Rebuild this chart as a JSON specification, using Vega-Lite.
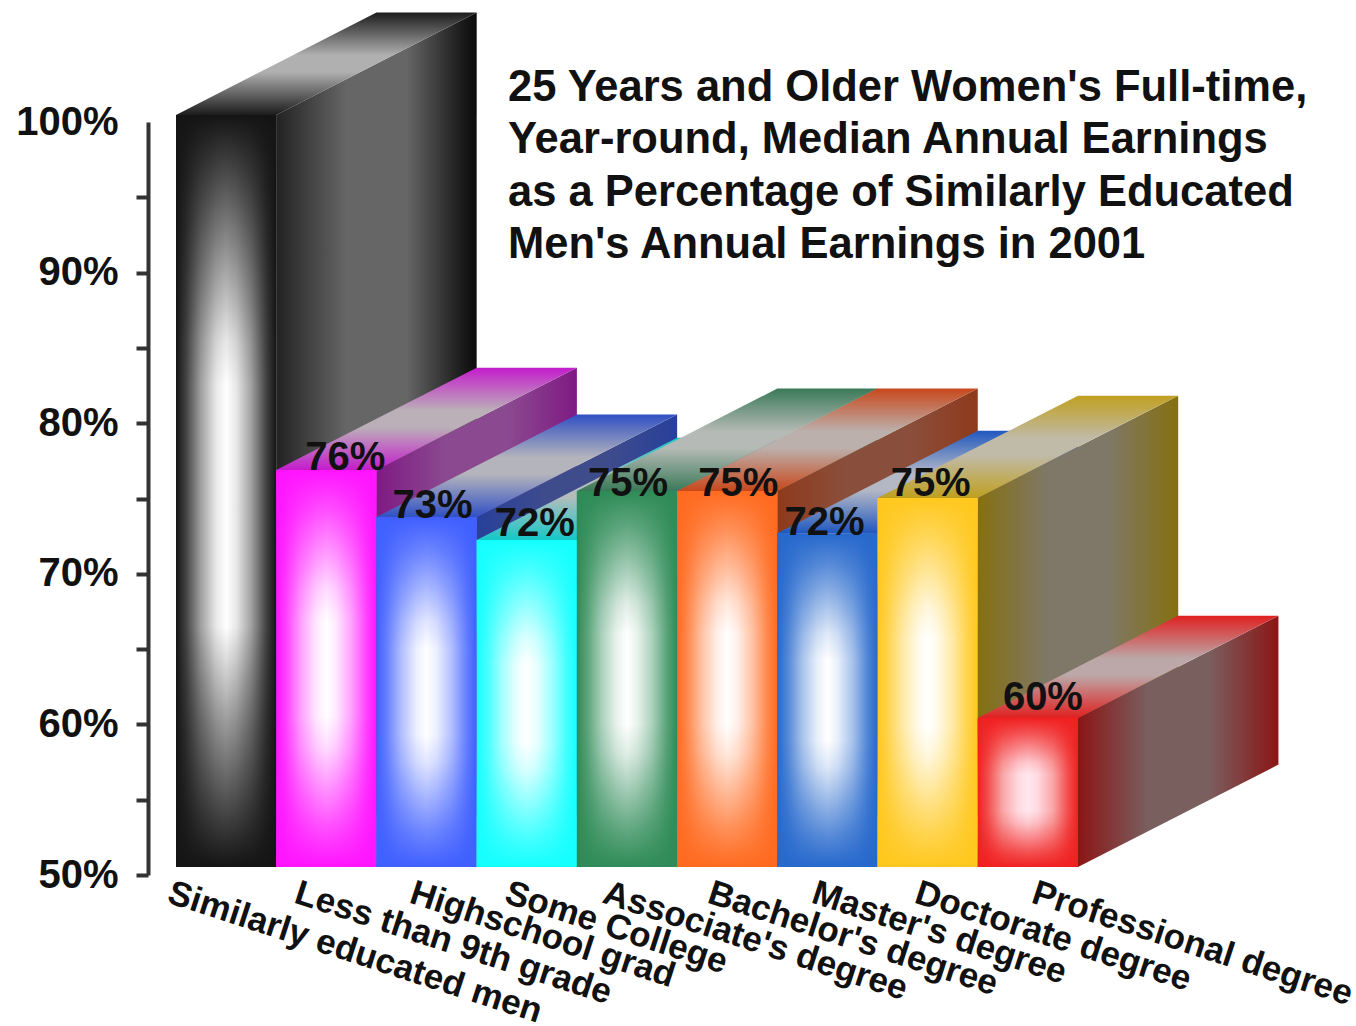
{"$schema":"https://vega.github.io/schema/vega-lite/v6.json","autosize":"none","width":1208,"height":753,"padding":{"left":148,"top":122,"right":0,"bottom":151},"background":"white",
"title":{"text":["25 Years and Older Women's Full-time,","Year-round, Median Annual Earnings","as a Percentage of Similarly Educated","Men's Annual Earnings in 2001"],"anchor":"start","frame":"group","baseline":"top","orient":"top","offset":0,"dx":360,"dy":255,"font":"Liberation Sans","fontSize":43.5,"fontWeight":"bold","color":"#111111","lineHeight":52.5},
"config":{"view":{"stroke":null}},
"data":{"values":[
{"bar":"Similarly educated men","face":"side","x":1,"y":100.47,"y2":50.53},{"bar":"Similarly educated men","face":"side","x":3,"y":107.27,"y2":57.33},
{"bar":"Similarly educated men","face":"top","x":0,"y":100.47,"y2":100.47},{"bar":"Similarly educated men","face":"top","x":1,"y":103.87,"y2":100.47},{"bar":"Similarly educated men","face":"top","x":2,"y":107.27,"y2":103.87},{"bar":"Similarly educated men","face":"top","x":3,"y":107.27,"y2":107.27},
{"bar":"Similarly educated men","face":"front","x":0,"x2":1,"y":100.47,"y2":50.53},
{"bar":"Less than 9th grade","face":"side","x":2,"y":76.89,"y2":50.53},{"bar":"Less than 9th grade","face":"side","x":4,"y":83.69,"y2":57.33},
{"bar":"Less than 9th grade","face":"top","x":1,"y":76.89,"y2":76.89},{"bar":"Less than 9th grade","face":"top","x":2,"y":80.29,"y2":76.89},{"bar":"Less than 9th grade","face":"top","x":3,"y":83.69,"y2":80.29},{"bar":"Less than 9th grade","face":"top","x":4,"y":83.69,"y2":83.69},
{"bar":"Less than 9th grade","face":"front","x":1,"x2":2,"y":76.89,"y2":50.53},
{"bar":"Highschool grad","face":"side","x":3,"y":73.77,"y2":50.53},{"bar":"Highschool grad","face":"side","x":5,"y":80.57,"y2":57.33},
{"bar":"Highschool grad","face":"top","x":2,"y":73.77,"y2":73.77},{"bar":"Highschool grad","face":"top","x":3,"y":77.17,"y2":73.77},{"bar":"Highschool grad","face":"top","x":4,"y":80.57,"y2":77.17},{"bar":"Highschool grad","face":"top","x":5,"y":80.57,"y2":80.57},
{"bar":"Highschool grad","face":"front","x":2,"x2":3,"y":73.77,"y2":50.53},
{"bar":"Some College","face":"side","x":4,"y":72.24,"y2":50.53},{"bar":"Some College","face":"side","x":6,"y":79.04,"y2":57.33},
{"bar":"Some College","face":"top","x":3,"y":72.24,"y2":72.24},{"bar":"Some College","face":"top","x":4,"y":75.64,"y2":72.24},{"bar":"Some College","face":"top","x":5,"y":79.04,"y2":75.64},{"bar":"Some College","face":"top","x":6,"y":79.04,"y2":79.04},
{"bar":"Some College","face":"front","x":3,"x2":4,"y":72.24,"y2":50.53},
{"bar":"Associate's degree","face":"side","x":5,"y":75.5,"y2":50.53},{"bar":"Associate's degree","face":"side","x":7,"y":82.3,"y2":57.33},
{"bar":"Associate's degree","face":"top","x":4,"y":75.5,"y2":75.5},{"bar":"Associate's degree","face":"top","x":5,"y":78.9,"y2":75.5},{"bar":"Associate's degree","face":"top","x":6,"y":82.3,"y2":78.9},{"bar":"Associate's degree","face":"top","x":7,"y":82.3,"y2":82.3},
{"bar":"Associate's degree","face":"front","x":4,"x2":5,"y":75.5,"y2":50.53},
{"bar":"Bachelor's degree","face":"side","x":6,"y":75.5,"y2":50.53},{"bar":"Bachelor's degree","face":"side","x":8,"y":82.3,"y2":57.33},
{"bar":"Bachelor's degree","face":"top","x":5,"y":75.5,"y2":75.5},{"bar":"Bachelor's degree","face":"top","x":6,"y":78.9,"y2":75.5},{"bar":"Bachelor's degree","face":"top","x":7,"y":82.3,"y2":78.9},{"bar":"Bachelor's degree","face":"top","x":8,"y":82.3,"y2":82.3},
{"bar":"Bachelor's degree","face":"front","x":5,"x2":6,"y":75.5,"y2":50.53},
{"bar":"Master's degree","face":"side","x":7,"y":72.7,"y2":50.53},{"bar":"Master's degree","face":"side","x":9,"y":79.5,"y2":57.33},
{"bar":"Master's degree","face":"top","x":6,"y":72.7,"y2":72.7},{"bar":"Master's degree","face":"top","x":7,"y":76.1,"y2":72.7},{"bar":"Master's degree","face":"top","x":8,"y":79.5,"y2":76.1},{"bar":"Master's degree","face":"top","x":9,"y":79.5,"y2":79.5},
{"bar":"Master's degree","face":"front","x":6,"x2":7,"y":72.7,"y2":50.53},
{"bar":"Doctorate degree","face":"side","x":8,"y":75.03,"y2":50.53},{"bar":"Doctorate degree","face":"side","x":10,"y":81.83,"y2":57.33},
{"bar":"Doctorate degree","face":"top","x":7,"y":75.03,"y2":75.03},{"bar":"Doctorate degree","face":"top","x":8,"y":78.43,"y2":75.03},{"bar":"Doctorate degree","face":"top","x":9,"y":81.83,"y2":78.43},{"bar":"Doctorate degree","face":"top","x":10,"y":81.83,"y2":81.83},
{"bar":"Doctorate degree","face":"front","x":7,"x2":8,"y":75.03,"y2":50.53},
{"bar":"Professional degree","face":"side","x":9,"y":60.42,"y2":50.53},{"bar":"Professional degree","face":"side","x":11,"y":67.22,"y2":57.33},
{"bar":"Professional degree","face":"top","x":8,"y":60.42,"y2":60.42},{"bar":"Professional degree","face":"top","x":9,"y":63.82,"y2":60.42},{"bar":"Professional degree","face":"top","x":10,"y":67.22,"y2":63.82},{"bar":"Professional degree","face":"top","x":11,"y":67.22,"y2":67.22},
{"bar":"Professional degree","face":"front","x":8,"x2":9,"y":60.42,"y2":50.53},
{"bar":"Less than 9th grade","face":"label","x":1.69,"y":77.69,"label":"76%"},
{"bar":"Highschool grad","face":"label","x":2.56,"y":74.5,"label":"73%"},
{"bar":"Some College","face":"label","x":3.58,"y":73.31,"label":"72%"},
{"bar":"Associate's degree","face":"label","x":4.51,"y":75.96,"label":"75%"},
{"bar":"Bachelor's degree","face":"label","x":5.61,"y":75.96,"label":"75%"},
{"bar":"Master's degree","face":"label","x":6.47,"y":73.37,"label":"72%"},
{"bar":"Doctorate degree","face":"label","x":7.53,"y":75.96,"label":"75%"},
{"bar":"Professional degree","face":"label","x":8.65,"y":61.75,"label":"60%"}
]},
"encoding":{
"x":{"field":"x","type":"quantitative","title":null,"scale":{"domain":[-0.2794,11.774],"nice":false,"zero":false},"axis":{"values":[-0.02,1.247,2.395,3.343,4.321,5.369,6.407,7.435,8.602],"labelExpr":"['Similarly educated men','Less than 9th grade','Highschool grad','Some College',\"Associate's degree\",\"Bachelor's degree\",\"Master's degree\",'Doctorate degree','Professional degree'][indexof([-0.02,1.247,2.395,3.343,4.321,5.369,6.407,7.435,8.602],datum.value)]","domain":false,"ticks":false,"grid":false,"labelAngle":18,"labelAlign":"left","labelBaseline":"top","labelPadding":0,"labelOverlap":false,"labelBound":false,"labelFlush":false,"labelLimit":800,"labelFont":"Liberation Sans","labelFontSize":35,"labelFontWeight":"bold","labelColor":"#111111"}},
"y":{"field":"y","type":"quantitative","title":null,"scale":{"domain":[50,100],"nice":false,"zero":false},"axis":{"values":[50,55,60,65,70,75,80,85,90,95,100],"labelExpr":"datum.value%10==0?datum.value+'%':''","grid":false,"domainColor":"#333333","domainWidth":4,"tickColor":"#333333","tickWidth":4,"tickSize":12,"tickOpacity":{"condition":{"test":"datum.value==100","value":0},"value":1},"labelPadding":18,"labelFont":"Liberation Sans","labelFontSize":40,"labelFontWeight":"bold","labelColor":"#111111","labelOverlap":false,"labelBound":false,"labelFlush":false}},
"y2":{"field":"y2"}
},
"layer":[
{"transform":[{"filter":{"field":"bar","equal":"Similarly educated men"}}],"layer":[
{"transform":[{"filter":{"field":"face","equal":"side"}}],"mark":{"type":"area","fill":{"gradient":"linear","x1":0,"y1":0,"x2":1,"y2":0,"stops":[{"offset":0,"color":"#222222"},{"offset":0.35,"color":"#666666"},{"offset":0.65,"color":"#666666"},{"offset":0.93,"color":"#1a1a1a"},{"offset":1,"color":"#0c0c0c"}]}}},
{"transform":[{"filter":{"field":"face","equal":"top"}}],"mark":{"type":"area","fill":{"gradient":"linear","x1":0,"y1":0,"x2":0,"y2":1,"stops":[{"offset":0,"color":"#1c1c1c"},{"offset":0.42,"color":"#b0b0b0"},{"offset":0.58,"color":"#b0b0b0"},{"offset":1,"color":"#1c1c1c"}]}}},
{"transform":[{"filter":{"field":"face","equal":"front"}}],"mark":{"type":"rect","fill":{"gradient":"linear","x1":0,"y1":0,"x2":1,"y2":0,"stops":[{"offset":0,"color":"#141414"},{"offset":0.1,"color":"#434343"},{"offset":0.25,"color":"#a1a1a1"},{"offset":0.4,"color":"#e8e8e8"},{"offset":0.5,"color":"#ffffff"},{"offset":0.6,"color":"#e8e8e8"},{"offset":0.75,"color":"#a1a1a1"},{"offset":0.9,"color":"#434343"},{"offset":1,"color":"#141414"}]}},"encoding":{"x2":{"field":"x2"}}},
{"transform":[{"filter":{"field":"face","equal":"front"}}],"mark":{"type":"rect","fill":{"gradient":"linear","x1":0,"y1":0,"x2":0,"y2":1,"stops":[{"offset":0,"color":"rgba(20,20,20,1)"},{"offset":0.1,"color":"rgba(20,20,20,0.7)"},{"offset":0.2,"color":"rgba(20,20,20,0.4)"},{"offset":0.3,"color":"rgba(20,20,20,0.1)"},{"offset":0.36,"color":"rgba(20,20,20,0)"},{"offset":0.68,"color":"rgba(20,20,20,0)"},{"offset":0.8,"color":"rgba(20,20,20,0.4)"},{"offset":0.9,"color":"rgba(20,20,20,0.7)"},{"offset":1,"color":"rgba(20,20,20,1)"}]}},"encoding":{"x2":{"field":"x2"}}}
]},
{"transform":[{"filter":{"field":"bar","equal":"Less than 9th grade"}}],"layer":[
{"transform":[{"filter":{"field":"face","equal":"side"}}],"mark":{"type":"area","fill":{"gradient":"linear","x1":0,"y1":0,"x2":1,"y2":0,"stops":[{"offset":0,"color":"#7f1a84"},{"offset":0.35,"color":"#8b4a8f"},{"offset":0.65,"color":"#8b4a8f"},{"offset":1,"color":"#7f1a84"}]}}},
{"transform":[{"filter":{"field":"face","equal":"top"}}],"mark":{"type":"area","fill":{"gradient":"linear","x1":0,"y1":0,"x2":0,"y2":1,"stops":[{"offset":0,"color":"#c41ccc"},{"offset":0.42,"color":"#bbb0b8"},{"offset":0.58,"color":"#bbb0b8"},{"offset":1,"color":"#c41ccc"}]}}},
{"transform":[{"filter":{"field":"face","equal":"front"}}],"mark":{"type":"rect","fill":{"gradient":"linear","x1":0,"y1":0,"x2":1,"y2":0,"stops":[{"offset":0,"color":"#ff14ff"},{"offset":0.1,"color":"#ff43ff"},{"offset":0.25,"color":"#ffa1ff"},{"offset":0.4,"color":"#ffe8ff"},{"offset":0.5,"color":"#ffffff"},{"offset":0.6,"color":"#ffe8ff"},{"offset":0.75,"color":"#ffa1ff"},{"offset":0.9,"color":"#ff43ff"},{"offset":1,"color":"#ff14ff"}]}},"encoding":{"x2":{"field":"x2"}}},
{"transform":[{"filter":{"field":"face","equal":"front"}}],"mark":{"type":"rect","fill":{"gradient":"linear","x1":0,"y1":0,"x2":0,"y2":1,"stops":[{"offset":0,"color":"rgba(255,20,255,1)"},{"offset":0.1,"color":"rgba(255,20,255,0.75)"},{"offset":0.2,"color":"rgba(255,20,255,0.45)"},{"offset":0.3,"color":"rgba(255,20,255,0.15)"},{"offset":0.38,"color":"rgba(255,20,255,0)"},{"offset":0.62,"color":"rgba(255,20,255,0)"},{"offset":0.7,"color":"rgba(255,20,255,0.15)"},{"offset":0.8,"color":"rgba(255,20,255,0.45)"},{"offset":0.9,"color":"rgba(255,20,255,0.75)"},{"offset":1,"color":"rgba(255,20,255,1)"}]}},"encoding":{"x2":{"field":"x2"}}}
]},
{"transform":[{"filter":{"field":"bar","equal":"Highschool grad"}}],"layer":[
{"transform":[{"filter":{"field":"face","equal":"side"}}],"mark":{"type":"area","fill":{"gradient":"linear","x1":0,"y1":0,"x2":1,"y2":0,"stops":[{"offset":0,"color":"#27409a"},{"offset":0.35,"color":"#3f4c8c"},{"offset":0.65,"color":"#3f4c8c"},{"offset":1,"color":"#27409a"}]}}},
{"transform":[{"filter":{"field":"face","equal":"top"}}],"mark":{"type":"area","fill":{"gradient":"linear","x1":0,"y1":0,"x2":0,"y2":1,"stops":[{"offset":0,"color":"#3050c4"},{"offset":0.42,"color":"#b4b4bc"},{"offset":0.58,"color":"#b4b4bc"},{"offset":1,"color":"#3050c4"}]}}},
{"transform":[{"filter":{"field":"face","equal":"front"}}],"mark":{"type":"rect","fill":{"gradient":"linear","x1":0,"y1":0,"x2":1,"y2":0,"stops":[{"offset":0,"color":"#3f5fff"},{"offset":0.1,"color":"#657fff"},{"offset":0.25,"color":"#b2bfff"},{"offset":0.4,"color":"#eceffF"},{"offset":0.5,"color":"#ffffff"},{"offset":0.6,"color":"#eceffF"},{"offset":0.75,"color":"#b2bfff"},{"offset":0.9,"color":"#657fff"},{"offset":1,"color":"#3f5fff"}]}},"encoding":{"x2":{"field":"x2"}}},
{"transform":[{"filter":{"field":"face","equal":"front"}}],"mark":{"type":"rect","fill":{"gradient":"linear","x1":0,"y1":0,"x2":0,"y2":1,"stops":[{"offset":0,"color":"rgba(63,95,255,1)"},{"offset":0.1,"color":"rgba(63,95,255,0.75)"},{"offset":0.2,"color":"rgba(63,95,255,0.45)"},{"offset":0.3,"color":"rgba(63,95,255,0.15)"},{"offset":0.38,"color":"rgba(63,95,255,0)"},{"offset":0.62,"color":"rgba(63,95,255,0)"},{"offset":0.7,"color":"rgba(63,95,255,0.15)"},{"offset":0.8,"color":"rgba(63,95,255,0.45)"},{"offset":0.9,"color":"rgba(63,95,255,0.75)"},{"offset":1,"color":"rgba(63,95,255,1)"}]}},"encoding":{"x2":{"field":"x2"}}}
]},
{"transform":[{"filter":{"field":"bar","equal":"Some College"}}],"layer":[
{"transform":[{"filter":{"field":"face","equal":"side"}}],"mark":{"type":"area","fill":{"gradient":"linear","x1":0,"y1":0,"x2":1,"y2":0,"stops":[{"offset":0,"color":"#12a0a0"},{"offset":0.35,"color":"#5c9a9a"},{"offset":0.65,"color":"#5c9a9a"},{"offset":1,"color":"#12a0a0"}]}}},
{"transform":[{"filter":{"field":"face","equal":"top"}}],"mark":{"type":"area","fill":{"gradient":"linear","x1":0,"y1":0,"x2":0,"y2":1,"stops":[{"offset":0,"color":"#14c8c8"},{"offset":0.42,"color":"#b4bcbc"},{"offset":0.58,"color":"#b4bcbc"},{"offset":1,"color":"#14c8c8"}]}}},
{"transform":[{"filter":{"field":"face","equal":"front"}}],"mark":{"type":"rect","fill":{"gradient":"linear","x1":0,"y1":0,"x2":1,"y2":0,"stops":[{"offset":0,"color":"#14ffff"},{"offset":0.1,"color":"#43ffff"},{"offset":0.25,"color":"#a1ffff"},{"offset":0.4,"color":"#e8ffff"},{"offset":0.5,"color":"#ffffff"},{"offset":0.6,"color":"#e8ffff"},{"offset":0.75,"color":"#a1ffff"},{"offset":0.9,"color":"#43ffff"},{"offset":1,"color":"#14ffff"}]}},"encoding":{"x2":{"field":"x2"}}},
{"transform":[{"filter":{"field":"face","equal":"front"}}],"mark":{"type":"rect","fill":{"gradient":"linear","x1":0,"y1":0,"x2":0,"y2":1,"stops":[{"offset":0,"color":"rgba(20,255,255,1)"},{"offset":0.1,"color":"rgba(20,255,255,0.75)"},{"offset":0.2,"color":"rgba(20,255,255,0.45)"},{"offset":0.3,"color":"rgba(20,255,255,0.15)"},{"offset":0.38,"color":"rgba(20,255,255,0)"},{"offset":0.62,"color":"rgba(20,255,255,0)"},{"offset":0.7,"color":"rgba(20,255,255,0.15)"},{"offset":0.8,"color":"rgba(20,255,255,0.45)"},{"offset":0.9,"color":"rgba(20,255,255,0.75)"},{"offset":1,"color":"rgba(20,255,255,1)"}]}},"encoding":{"x2":{"field":"x2"}}}
]},
{"transform":[{"filter":{"field":"bar","equal":"Associate's degree"}}],"layer":[
{"transform":[{"filter":{"field":"face","equal":"side"}}],"mark":{"type":"area","fill":{"gradient":"linear","x1":0,"y1":0,"x2":1,"y2":0,"stops":[{"offset":0,"color":"#2a6b4a"},{"offset":0.35,"color":"#6b8a78"},{"offset":0.65,"color":"#6b8a78"},{"offset":1,"color":"#2a6b4a"}]}}},
{"transform":[{"filter":{"field":"face","equal":"top"}}],"mark":{"type":"area","fill":{"gradient":"linear","x1":0,"y1":0,"x2":0,"y2":1,"stops":[{"offset":0,"color":"#3a7a58"},{"offset":0.42,"color":"#b6bab6"},{"offset":0.58,"color":"#b6bab6"},{"offset":1,"color":"#3a7a58"}]}}},
{"transform":[{"filter":{"field":"face","equal":"front"}}],"mark":{"type":"rect","fill":{"gradient":"linear","x1":0,"y1":0,"x2":1,"y2":0,"stops":[{"offset":0,"color":"#2e8b57"},{"offset":0.1,"color":"#58a279"},{"offset":0.25,"color":"#abd1bc"},{"offset":0.4,"color":"#eaf3ee"},{"offset":0.5,"color":"#ffffff"},{"offset":0.6,"color":"#eaf3ee"},{"offset":0.75,"color":"#abd1bc"},{"offset":0.9,"color":"#58a279"},{"offset":1,"color":"#2e8b57"}]}},"encoding":{"x2":{"field":"x2"}}},
{"transform":[{"filter":{"field":"face","equal":"front"}}],"mark":{"type":"rect","fill":{"gradient":"linear","x1":0,"y1":0,"x2":0,"y2":1,"stops":[{"offset":0,"color":"rgba(46,139,87,1)"},{"offset":0.1,"color":"rgba(46,139,87,0.75)"},{"offset":0.2,"color":"rgba(46,139,87,0.45)"},{"offset":0.3,"color":"rgba(46,139,87,0.15)"},{"offset":0.38,"color":"rgba(46,139,87,0)"},{"offset":0.62,"color":"rgba(46,139,87,0)"},{"offset":0.7,"color":"rgba(46,139,87,0.15)"},{"offset":0.8,"color":"rgba(46,139,87,0.45)"},{"offset":0.9,"color":"rgba(46,139,87,0.75)"},{"offset":1,"color":"rgba(46,139,87,1)"}]}},"encoding":{"x2":{"field":"x2"}}}
]},
{"transform":[{"filter":{"field":"bar","equal":"Bachelor's degree"}}],"layer":[
{"transform":[{"filter":{"field":"face","equal":"side"}}],"mark":{"type":"area","fill":{"gradient":"linear","x1":0,"y1":0,"x2":1,"y2":0,"stops":[{"offset":0,"color":"#8f3a1c"},{"offset":0.35,"color":"#8a4f3c"},{"offset":0.65,"color":"#8a4f3c"},{"offset":1,"color":"#8f3a1c"}]}}},
{"transform":[{"filter":{"field":"face","equal":"top"}}],"mark":{"type":"area","fill":{"gradient":"linear","x1":0,"y1":0,"x2":0,"y2":1,"stops":[{"offset":0,"color":"#c8481c"},{"offset":0.42,"color":"#bcb0ac"},{"offset":0.58,"color":"#bcb0ac"},{"offset":1,"color":"#c8481c"}]}}},
{"transform":[{"filter":{"field":"face","equal":"front"}}],"mark":{"type":"rect","fill":{"gradient":"linear","x1":0,"y1":0,"x2":1,"y2":0,"stops":[{"offset":0,"color":"#ff6a1f"},{"offset":0.1,"color":"#ff884c"},{"offset":0.25,"color":"#ffc3a6"},{"offset":0.4,"color":"#fff0e9"},{"offset":0.5,"color":"#ffffff"},{"offset":0.6,"color":"#fff0e9"},{"offset":0.75,"color":"#ffc3a6"},{"offset":0.9,"color":"#ff884c"},{"offset":1,"color":"#ff6a1f"}]}},"encoding":{"x2":{"field":"x2"}}},
{"transform":[{"filter":{"field":"face","equal":"front"}}],"mark":{"type":"rect","fill":{"gradient":"linear","x1":0,"y1":0,"x2":0,"y2":1,"stops":[{"offset":0,"color":"rgba(255,106,31,1)"},{"offset":0.1,"color":"rgba(255,106,31,0.75)"},{"offset":0.2,"color":"rgba(255,106,31,0.45)"},{"offset":0.3,"color":"rgba(255,106,31,0.15)"},{"offset":0.38,"color":"rgba(255,106,31,0)"},{"offset":0.62,"color":"rgba(255,106,31,0)"},{"offset":0.7,"color":"rgba(255,106,31,0.15)"},{"offset":0.8,"color":"rgba(255,106,31,0.45)"},{"offset":0.9,"color":"rgba(255,106,31,0.75)"},{"offset":1,"color":"rgba(255,106,31,1)"}]}},"encoding":{"x2":{"field":"x2"}}}
]},
{"transform":[{"filter":{"field":"bar","equal":"Master's degree"}}],"layer":[
{"transform":[{"filter":{"field":"face","equal":"side"}}],"mark":{"type":"area","fill":{"gradient":"linear","x1":0,"y1":0,"x2":1,"y2":0,"stops":[{"offset":0,"color":"#2a4a9a"},{"offset":0.35,"color":"#4a5a8a"},{"offset":0.65,"color":"#4a5a8a"},{"offset":1,"color":"#2a4a9a"}]}}},
{"transform":[{"filter":{"field":"face","equal":"top"}}],"mark":{"type":"area","fill":{"gradient":"linear","x1":0,"y1":0,"x2":0,"y2":1,"stops":[{"offset":0,"color":"#2058c0"},{"offset":0.42,"color":"#b4b8c4"},{"offset":0.58,"color":"#b4b8c4"},{"offset":1,"color":"#2058c0"}]}}},
{"transform":[{"filter":{"field":"face","equal":"front"}}],"mark":{"type":"rect","fill":{"gradient":"linear","x1":0,"y1":0,"x2":1,"y2":0,"stops":[{"offset":0,"color":"#2668cc"},{"offset":0.1,"color":"#5186d6"},{"offset":0.25,"color":"#a8c3eb"},{"offset":0.4,"color":"#e9f0fa"},{"offset":0.5,"color":"#ffffff"},{"offset":0.6,"color":"#e9f0fa"},{"offset":0.75,"color":"#a8c3eb"},{"offset":0.9,"color":"#5186d6"},{"offset":1,"color":"#2668cc"}]}},"encoding":{"x2":{"field":"x2"}}},
{"transform":[{"filter":{"field":"face","equal":"front"}}],"mark":{"type":"rect","fill":{"gradient":"linear","x1":0,"y1":0,"x2":0,"y2":1,"stops":[{"offset":0,"color":"rgba(38,104,204,1)"},{"offset":0.1,"color":"rgba(38,104,204,0.75)"},{"offset":0.2,"color":"rgba(38,104,204,0.45)"},{"offset":0.3,"color":"rgba(38,104,204,0.15)"},{"offset":0.38,"color":"rgba(38,104,204,0)"},{"offset":0.62,"color":"rgba(38,104,204,0)"},{"offset":0.7,"color":"rgba(38,104,204,0.15)"},{"offset":0.8,"color":"rgba(38,104,204,0.45)"},{"offset":0.9,"color":"rgba(38,104,204,0.75)"},{"offset":1,"color":"rgba(38,104,204,1)"}]}},"encoding":{"x2":{"field":"x2"}}}
]},
{"transform":[{"filter":{"field":"bar","equal":"Doctorate degree"}}],"layer":[
{"transform":[{"filter":{"field":"face","equal":"side"}}],"mark":{"type":"area","fill":{"gradient":"linear","x1":0,"y1":0,"x2":1,"y2":0,"stops":[{"offset":0,"color":"#857010"},{"offset":0.35,"color":"#7f7868"},{"offset":0.65,"color":"#7f7868"},{"offset":1,"color":"#857010"}]}}},
{"transform":[{"filter":{"field":"face","equal":"top"}}],"mark":{"type":"area","fill":{"gradient":"linear","x1":0,"y1":0,"x2":0,"y2":1,"stops":[{"offset":0,"color":"#c0a020"},{"offset":0.42,"color":"#c0baa8"},{"offset":0.58,"color":"#c0baa8"},{"offset":1,"color":"#c0a020"}]}}},
{"transform":[{"filter":{"field":"face","equal":"front"}}],"mark":{"type":"rect","fill":{"gradient":"linear","x1":0,"y1":0,"x2":1,"y2":0,"stops":[{"offset":0,"color":"#ffc81e"},{"offset":0.1,"color":"#ffd34b"},{"offset":0.25,"color":"#ffe9a5"},{"offset":0.4,"color":"#fffae9"},{"offset":0.5,"color":"#ffffff"},{"offset":0.6,"color":"#fffae9"},{"offset":0.75,"color":"#ffe9a5"},{"offset":0.9,"color":"#ffd34b"},{"offset":1,"color":"#ffc81e"}]}},"encoding":{"x2":{"field":"x2"}}},
{"transform":[{"filter":{"field":"face","equal":"front"}}],"mark":{"type":"rect","fill":{"gradient":"linear","x1":0,"y1":0,"x2":0,"y2":1,"stops":[{"offset":0,"color":"rgba(255,200,30,1)"},{"offset":0.1,"color":"rgba(255,200,30,0.75)"},{"offset":0.2,"color":"rgba(255,200,30,0.45)"},{"offset":0.3,"color":"rgba(255,200,30,0.15)"},{"offset":0.38,"color":"rgba(255,200,30,0)"},{"offset":0.62,"color":"rgba(255,200,30,0)"},{"offset":0.7,"color":"rgba(255,200,30,0.15)"},{"offset":0.8,"color":"rgba(255,200,30,0.45)"},{"offset":0.9,"color":"rgba(255,200,30,0.75)"},{"offset":1,"color":"rgba(255,200,30,1)"}]}},"encoding":{"x2":{"field":"x2"}}}
]},
{"transform":[{"filter":{"field":"bar","equal":"Professional degree"}}],"layer":[
{"transform":[{"filter":{"field":"face","equal":"side"}}],"mark":{"type":"area","fill":{"gradient":"linear","x1":0,"y1":0,"x2":1,"y2":0,"stops":[{"offset":0,"color":"#8b1515"},{"offset":0.35,"color":"#7a5f5f"},{"offset":0.65,"color":"#7a5f5f"},{"offset":1,"color":"#8b1515"}]}}},
{"transform":[{"filter":{"field":"face","equal":"top"}}],"mark":{"type":"area","fill":{"gradient":"linear","x1":0,"y1":0,"x2":0,"y2":1,"stops":[{"offset":0,"color":"#e02020"},{"offset":0.42,"color":"#bca8a8"},{"offset":0.58,"color":"#bca8a8"},{"offset":1,"color":"#e02020"}]}}},
{"transform":[{"filter":{"field":"face","equal":"front"}}],"mark":{"type":"rect","fill":{"gradient":"linear","x1":0,"y1":0,"x2":1,"y2":0,"stops":[{"offset":0,"color":"#f02020"},{"offset":0.1,"color":"#f34d4d"},{"offset":0.25,"color":"#f9a6a6"},{"offset":0.4,"color":"#ffd8e0"},{"offset":0.5,"color":"#ffe8ee"},{"offset":0.6,"color":"#ffd8e0"},{"offset":0.75,"color":"#f9a6a6"},{"offset":0.9,"color":"#f34d4d"},{"offset":1,"color":"#f02020"}]}},"encoding":{"x2":{"field":"x2"}}},
{"transform":[{"filter":{"field":"face","equal":"front"}}],"mark":{"type":"rect","fill":{"gradient":"linear","x1":0,"y1":0,"x2":0,"y2":1,"stops":[{"offset":0,"color":"rgba(240,32,32,1)"},{"offset":0.1,"color":"rgba(240,32,32,0.75)"},{"offset":0.2,"color":"rgba(240,32,32,0.45)"},{"offset":0.3,"color":"rgba(240,32,32,0.15)"},{"offset":0.38,"color":"rgba(240,32,32,0)"},{"offset":0.62,"color":"rgba(240,32,32,0)"},{"offset":0.7,"color":"rgba(240,32,32,0.15)"},{"offset":0.8,"color":"rgba(240,32,32,0.45)"},{"offset":0.9,"color":"rgba(240,32,32,0.75)"},{"offset":1,"color":"rgba(240,32,32,1)"}]}},"encoding":{"x2":{"field":"x2"}}}
]},
{"transform":[{"filter":{"field":"face","equal":"label"}}],"mark":{"type":"text","font":"Liberation Sans","fontSize":40,"fontWeight":"bold","color":"#111111"},"encoding":{"y2":{"value":null},"text":{"field":"label"}}}
]}
